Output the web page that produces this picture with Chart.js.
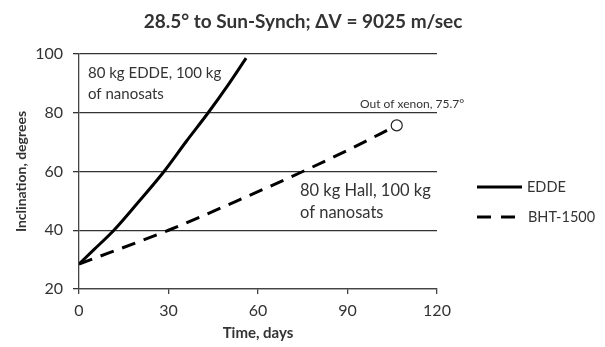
<!DOCTYPE html>
<html>
<head>
<meta charset="utf-8">
<script src="https://cdn.jsdelivr.net/npm/chart.js@4.4.1/dist/chart.umd.min.js"></script>
<style>
  html, body { margin: 0; padding: 0; background: #fff; }
</style>
</head>
<body>
<canvas id="incChart" width="605" height="347"></canvas>
<script>
// dati
const eddeDays = [0, 5, 11.7, 20, 28.5, 36, 43.3, 50, 56];
const eddeIncl = [28.5, 33.4, 40, 49.7, 60, 70.3, 80, 89.5, 98.6];
const hallDays = [0, 30, 53, 75, 91, 106.5];
const hallIncl = [28.5, 40, 50, 60, 67.7, 75.7];
const xenonDays = [106.5];
const xenonIncl = [75.7];
const xTicks = [0, 30, 60, 90, 120];
const yTicks = [20, 40, 60, 80, 100];

const FONT = "Lato, 'Open Sans', sans-serif";
const TXT = "#333";

function toPoints(xs, ys) {
    return xs.map((x, i) => ({ x: x, y: ys[i] }));
}

// titolo, etichette e legenda disegnati a mano
const extras = {
    id: "extras",
    afterDraw(chart) {
        const ctx = chart.ctx;
        ctx.save();
        ctx.fillStyle = TXT;
        ctx.textBaseline = "middle";

        ctx.font = "bold 19px " + FONT;
        ctx.textAlign = "center";
        ctx.fillText("28.5° to Sun-Synch; ΔV = 9025 m/sec", 303, 22);

        ctx.textAlign = "left";
        ctx.font = "15px " + FONT;
        ctx.fillText("80 kg EDDE, 100 kg", 88, 73);
        ctx.fillText("of nanosats", 88, 94);
        ctx.font = "16.5px " + FONT;
        ctx.fillText("80 kg Hall, 100 kg", 300, 191);
        ctx.fillText("of nanosats", 300, 213);

        ctx.font = "12px " + FONT;
        ctx.fillText("Out of xenon, 75.7°", 360, 104);

        // legenda
        ctx.strokeStyle = "#000";
        ctx.lineWidth = 3;
        ctx.beginPath();
        ctx.moveTo(477, 187);
        ctx.lineTo(522, 187);
        ctx.stroke();
        ctx.setLineDash([14, 10]);
        ctx.beginPath();
        ctx.moveTo(477, 217);
        ctx.lineTo(517, 217);
        ctx.stroke();
        ctx.setLineDash([]);

        ctx.font = "14.5px " + FONT;
        ctx.fillText("EDDE", 527, 187);
        ctx.fillText("BHT-1500", 528, 217);
        ctx.restore();
    }
};

const ctx = document.getElementById("incChart").getContext("2d");

new Chart(ctx, {
    type: "line",
    data: {
        datasets: [{
            label: "Out of xenon",
            data: toPoints(xenonDays, xenonIncl),
            showLine: false,
            pointRadius: 5.5,
            pointBorderWidth: 1.2,
            pointBorderColor: "#222",
            pointBackgroundColor: "#fff"
        }, {
            label: "EDDE",
            data: toPoints(eddeDays, eddeIncl),
            borderColor: "#000",
            borderWidth: 3,
            pointRadius: 0,
            cubicInterpolationMode: "monotone",
            fill: false
        }, {
            label: "BHT-1500",
            data: toPoints(hallDays, hallIncl),
            borderColor: "#000",
            borderWidth: 3,
            borderDash: [14, 9],
            pointRadius: 0,
            cubicInterpolationMode: "monotone",
            fill: false
        }]
    },
    options: {
        responsive: false,
        animation: false,
        devicePixelRatio: 1,
        layout: { padding: { top: 54, right: 168, left: 0, bottom: 0 } },
        plugins: {
            legend: { display: false },
            title: { display: false },
            tooltip: { enabled: false }
        },
        scales: {
            x: {
                type: "linear",
                min: 0,
                max: 120,
                afterBuildTicks: s => { s.ticks = xTicks.map(v => ({ value: v })); },
                afterFit: s => { s.height = 58; },
                ticks: { font: { family: FONT, size: 16 }, color: TXT, padding: 7 },
                grid: { drawOnChartArea: false, tickLength: 5, color: "#444", lineWidth: 1.3 },
                border: { color: "#444", width: 1.3 },
                title: {
                    display: true,
                    text: "Time, days",
                    font: { family: FONT, size: 15, weight: "bold" },
                    color: TXT,
                    padding: { top: 0, bottom: 5 }
                }
            },
            y: {
                min: 20,
                max: 100,
                afterBuildTicks: s => { s.ticks = yTicks.map(v => ({ value: v })); },
                afterFit: s => { s.width = 79; },
                ticks: { font: { family: FONT, size: 16 }, color: TXT, padding: 10 },
                grid: { tickLength: 6, color: "#333", lineWidth: 1.3 },
                border: { color: "#444", width: 1.3 },
                title: {
                    display: true,
                    text: "Inclination, degrees",
                    font: { family: FONT, size: 14, weight: "bold" },
                    color: TXT,
                    padding: { top: 13, bottom: 0 }
                }
            }
        }
    },
    plugins: [extras]
});
</script>
</body>
</html>
